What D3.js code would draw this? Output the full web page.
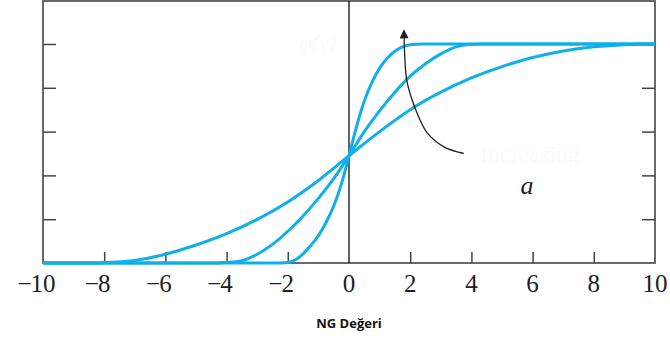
<!DOCTYPE html>
<html>
<head>
<meta charset="utf-8">
<script src="https://cdn.jsdelivr.net/npm/d3@7"></script>
<style>
  body { margin: 0; background: #fff; }
  svg { display: block; }
</style>
</head>
<body>
<svg id="chart"></svg>
<script>
(function () {
  // Data
  var xTicks = [-10, -8, -6, -4, -2, 0, 2, 4, 6, 8, 10]
  var yTicks = [0.2, 0.4, 0.6, 0.8, 1]

  // three curves, steepest first (x, phi)
  var curveSteep = [[-10, 0], [-2.6, 0], [-2.2, 0], [-2, 0.002], [-1.75, 0.015], [-1.5, 0.042],
    [-1.25, 0.08], [-1, 0.125], [-0.75, 0.185], [-0.5, 0.26], [-0.25, 0.36], [0, 0.49],
    [0.25, 0.625], [0.5, 0.74], [0.75, 0.825], [1, 0.89], [1.25, 0.935], [1.5, 0.967],
    [1.75, 0.987], [2, 0.997], [2.4, 1], [3, 1], [10, 1]]
  var curveMid = [[-10, 0], [-5, 0], [-4.3, 0], [-4, 0.002], [-3.5, 0.01], [-3, 0.04],
    [-2.5, 0.085], [-2, 0.145], [-1.5, 0.215], [-1, 0.295], [-0.5, 0.385], [0, 0.49],
    [0.5, 0.6], [1, 0.695], [1.5, 0.78], [2, 0.853], [2.5, 0.91], [3, 0.955], [3.5, 0.987],
    [3.9, 0.998], [4.3, 1], [5, 1], [10, 1]]
  var curveWide = [[-10, 0], [-9, 0], [-8.3, 0], [-8, 0.002], [-7, 0.012], [-6, 0.04],
    [-5, 0.082], [-4, 0.134], [-3, 0.199], [-2, 0.279], [-1, 0.377], [0, 0.49],
    [1, 0.6], [2, 0.7], [3, 0.78], [4, 0.845], [5, 0.897], [6, 0.938], [7, 0.968],
    [8, 0.987], [9, 0.997], [10, 1]]

  // "Increasing a" arrow, in data units
  var arrowPts = [[3.75, 0.5], [3.1, 0.53], [2.55, 0.595], [2.3, 0.66], [2.05, 0.75],
    [1.88, 0.84], [1.82, 0.95], [1.8, 1.03]]

  var WIDTH = 670
  var HEIGHT = 345
  var LEFT = 43
  var RIGHT = 655
  var TOP = 1
  var BOTTOM = 263
  var BLUE = '#0fb0ea'
  var INK = '#1e1e26'
  var FRAME = '#444'

  var svg = d3.select('#chart')
    .attr('width', WIDTH)
    .attr('height', HEIGHT)

  var x = d3.scaleLinear().domain([-10, 10]).range([LEFT, RIGHT])
  var y = d3.scaleLinear().domain([0, 1]).range([BOTTOM, 44])

  // faint leftover labels from the source figure
  svg.append('text')
    .attr('x', 318).attr('y', 50)
    .attr('text-anchor', 'middle')
    .style('font', 'italic 22px "Liberation Serif"')
    .style('fill', '#fafafa')
    .text('φ(v)')
  svg.append('text')
    .attr('x', 530).attr('y', 162)
    .attr('text-anchor', 'middle')
    .style('font', '24px "Liberation Serif"')
    .style('fill', '#fafafa')
    .text('Increasing')

  // ticks (inward)
  var bottomAxis = d3.axisBottom(x)
    .tickValues(xTicks.filter(function (d) { return d !== 0 && Math.abs(d) !== 10 }))
    .tickSize(-11)
    .tickFormat('')
  svg.append('g')
    .attr('transform', 'translate(0,' + BOTTOM + ')')
    .call(bottomAxis)
    .call(function (g) { g.select('.domain').remove() })
    .selectAll('line').attr('stroke', FRAME).attr('stroke-width', 1.5)

  var leftAxis = d3.axisLeft(y).tickValues(yTicks).tickSize(-13).tickFormat('')
  svg.append('g')
    .attr('transform', 'translate(' + LEFT + ',0)')
    .call(leftAxis)
    .call(function (g) { g.select('.domain').remove() })
    .selectAll('line').attr('stroke', FRAME).attr('stroke-width', 1.5)

  var rightAxis = d3.axisRight(y).tickValues(yTicks).tickSize(-13).tickFormat('')
  svg.append('g')
    .attr('transform', 'translate(' + RIGHT + ',0)')
    .call(rightAxis)
    .call(function (g) { g.select('.domain').remove() })
    .selectAll('line').attr('stroke', FRAME).attr('stroke-width', 1.5)

  // frame and zero line
  svg.append('rect')
    .attr('x', LEFT).attr('y', TOP)
    .attr('width', RIGHT - LEFT).attr('height', BOTTOM - TOP)
    .attr('fill', 'none')
    .attr('stroke', FRAME)
    .attr('stroke-width', 1.6)
  svg.append('line')
    .attr('x1', x(0)).attr('x2', x(0))
    .attr('y1', TOP).attr('y2', BOTTOM)
    .attr('stroke', INK)
    .attr('stroke-width', 1.4)

  // tick labels: digits centred on the tick, minus sign hanging to the left
  var labels = svg.append('g').selectAll('g')
    .data(xTicks)
    .enter().append('g')
    .attr('transform', function (d) { return 'translate(' + x(d) + ',292)' })
  labels.append('text')
    .attr('class', 'num')
    .attr('text-anchor', 'middle')
    .style('font', '25px "Liberation Serif"')
    .style('fill', INK)
    .text(function (d) { return Math.abs(d) })
  labels.filter(function (d) { return d < 0 })
    .append('text')
    .attr('text-anchor', 'end')
    .attr('x', function () {
      var w = this.parentNode.querySelector('.num').getComputedTextLength()
      return -w / 2 + 1
    })
    .style('font', '25px "Liberation Serif"')
    .style('fill', INK)
    .text('−')

  // x axis title
  svg.append('text')
    .attr('x', x(0))
    .attr('y', 328)
    .attr('text-anchor', 'middle')
    .style('font', 'bold 13px "Open Sans"')
    .style('fill', '#111')
    .text('NG Değeri')

  // curves
  var line = d3.line()
    .x(function (d) { return x(d[0]) })
    .y(function (d) { return y(d[1]) })
    .curve(d3.curveMonotoneX)

  svg.append('g')
    .selectAll('path')
    .data([curveWide, curveMid, curveSteep])
    .enter().append('path')
    .attr('d', line)
    .attr('fill', 'none')
    .attr('stroke', BLUE)
    .attr('stroke-width', 3)
    .attr('stroke-linejoin', 'round')

  // arrow
  svg.append('defs').append('marker')
    .attr('id', 'head')
    .attr('viewBox', '0 0 10 10')
    .attr('refX', 1).attr('refY', 5)
    .attr('markerUnits', 'userSpaceOnUse')
    .attr('markerWidth', 14).attr('markerHeight', 9)
    .attr('orient', 'auto')
    .append('path')
    .attr('d', 'M0,0 L10,5 L0,10 Z')
    .attr('fill', INK)

  var arrowLine = d3.line()
    .x(function (d) { return x(d[0]) })
    .y(function (d) { return y(d[1]) })
    .curve(d3.curveCatmullRom)
  svg.append('path')
    .attr('d', arrowLine(arrowPts))
    .attr('fill', 'none')
    .attr('stroke', INK)
    .attr('stroke-width', 1.3)
    .attr('marker-end', 'url(#head)')

  svg.append('text')
    .attr('x', 527).attr('y', 194)
    .attr('text-anchor', 'middle')
    .style('font', 'italic 26px "Liberation Serif"')
    .style('fill', INK)
    .text('a')
})()
</script>
</body>
</html>
